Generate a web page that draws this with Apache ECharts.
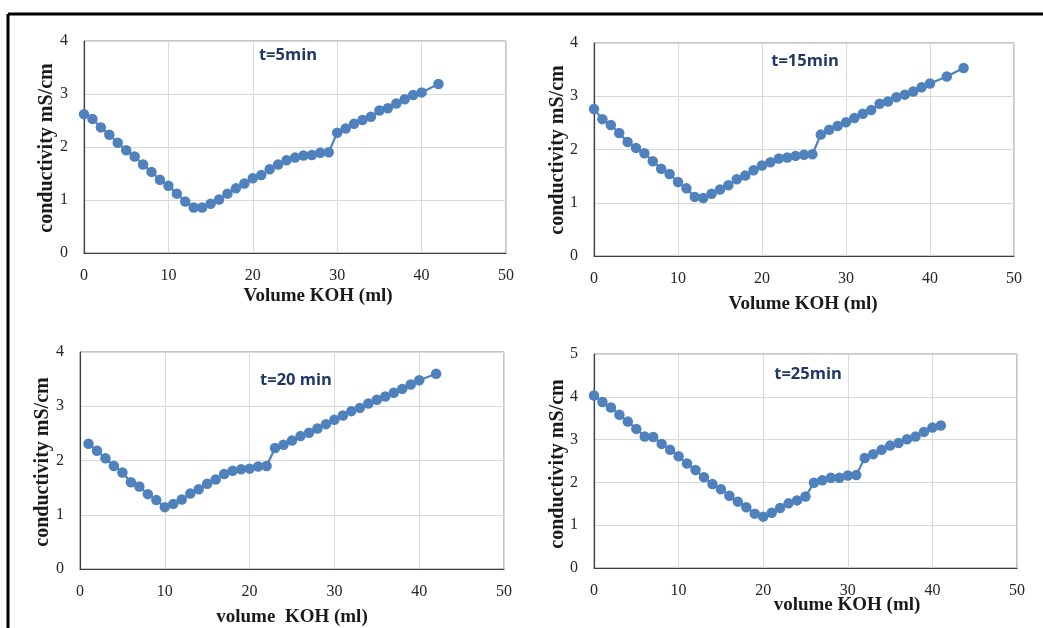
<!DOCTYPE html>
<html>
<head>
<meta charset="utf-8">
<script src="https://cdn.jsdelivr.net/npm/echarts@6/dist/echarts.min.js"></script>
<style>
html,body{margin:0;padding:0;background:#fff;}
#c{width:1043px;height:628px;}
</style>
</head>
<body>
<div id="c"></div>
<script>
// ---- data ----
var x5 = [0,1,2,3,4,5,6,7,8,9,10,11,12,13,14,15,16,17,18,19,20,21,22,23,24,25,26,27,28,29,30,31,32,33,34,35,36,37,38,39,40,42];
var y5 = [2.62,2.53,2.37,2.23,2.08,1.94,1.82,1.67,1.53,1.38,1.27,1.12,0.97,0.86,0.86,0.93,1.01,1.12,1.22,1.31,1.41,1.47,1.58,1.67,1.75,1.80,1.84,1.85,1.89,1.90,2.27,2.35,2.44,2.51,2.57,2.69,2.73,2.82,2.90,2.98,3.03,3.19];

var x15 = [0,1,2,3,4,5,6,7,8,9,10,11,12,13,14,15,16,17,18,19,20,21,22,23,24,25,26,27,28,29,30,31,32,33,34,35,36,37,38,39,40,42,44];
var y15 = [2.76,2.57,2.46,2.31,2.14,2.03,1.93,1.78,1.64,1.54,1.39,1.27,1.11,1.09,1.17,1.25,1.33,1.44,1.51,1.61,1.70,1.76,1.83,1.85,1.88,1.90,1.91,2.28,2.37,2.44,2.51,2.59,2.67,2.74,2.86,2.90,2.98,3.03,3.09,3.17,3.24,3.37,3.53];

var x20 = [1,2,3,4,5,6,7,8,9,10,11,12,13,14,15,16,17,18,19,20,21,22,23,24,25,26,27,28,29,30,31,32,33,34,35,36,37,38,39,40,42];
var y20 = [2.31,2.18,2.04,1.90,1.78,1.60,1.52,1.38,1.27,1.14,1.20,1.28,1.39,1.47,1.57,1.65,1.75,1.81,1.84,1.85,1.89,1.90,2.23,2.29,2.37,2.45,2.51,2.59,2.67,2.75,2.83,2.91,2.97,3.05,3.12,3.18,3.25,3.32,3.40,3.48,3.60];

var x25 = [0,1,2,3,4,5,6,7,8,9,10,11,12,13,14,15,16,17,18,19,20,21,22,23,24,25,26,27,28,29,30,31,32,33,34,35,36,37,38,39,40,41];
var y25 = [4.03,3.88,3.75,3.58,3.42,3.25,3.07,3.06,2.90,2.76,2.61,2.44,2.29,2.12,1.96,1.84,1.69,1.55,1.42,1.27,1.20,1.29,1.40,1.51,1.58,1.67,1.99,2.05,2.11,2.11,2.16,2.17,2.57,2.66,2.76,2.86,2.92,3.01,3.07,3.18,3.28,3.33];

var titles = ['t=5min','t=15min','t=20 min','t=25min'];
var xNames = ['Volume KOH (ml)','Volume KOH (ml)','volume  KOH (ml)','volume KOH (ml)'];
var yName = 'conductivity mS/cm';
var yMax = [4,4,4,5];

// ---- layout ----
var grids = [
  {left:84, top:41, width:422, height:212},
  {left:594, top:43, width:420, height:213},
  {left:80, top:352, width:424, height:217},
  {left:594, top:354, width:423, height:214}
];
var titlePos = [[288,55],[805,61],[296,380],[808,374]];
var xNamePos = [[318,296],[803,304],[292,617],[847,605]];
var yNamePos = [[47,148],[558,150],[43,462],[558,464]];

function pairs(xs, ys){ return xs.map(function(v,i){ return [v, ys[i]]; }); }
var datasets = [pairs(x5,y5), pairs(x15,y15), pairs(x20,y20), pairs(x25,y25)];

var blue = '#4f81bd';
var tickFont = {fontFamily:'"Liberation Serif", "DejaVu Serif", serif', fontSize:16, color:'#262626'};

var option = {
  backgroundColor:'#ffffff',
  animation:false,
  grid: grids.map(function(g){ return Object.assign({show:true, borderColor:'#8c8c8c', borderWidth:1, containLabel:false}, g); }),
  xAxis: grids.map(function(g,i){
    return {
      gridIndex:i, type:'value', min:0, max:50, interval:10,
      axisLine:{show:true, onZero:false, lineStyle:{color:'#404040', width:1.2}},
      axisTick:{show:false},
      axisLabel:Object.assign({margin:15}, tickFont),
      splitLine:{show:true, lineStyle:{color:'#d9d9d9', width:1}}
    };
  }),
  yAxis: grids.map(function(g,i){
    return {
      gridIndex:i, type:'value', min:0, max:yMax[i], interval:1,
      axisLine:{show:true, onZero:false, lineStyle:{color:'#404040', width:1.2}},
      axisTick:{show:false},
      axisLabel:Object.assign({margin:16}, tickFont),
      splitLine:{show:true, lineStyle:{color:'#d9d9d9', width:1}}
    };
  }),
  series: datasets.map(function(d,i){
    return {
      type:'line', xAxisIndex:i, yAxisIndex:i, data:d,
      symbol:'circle', symbolSize:10.5, showSymbol:true,
      lineStyle:{color:blue, width:2.2},
      itemStyle:{color:blue},
      emphasis:{disabled:true}
    };
  }),
  graphic: []
};

// frame lines
option.graphic.push({type:'line', shape:{x1:8, y1:14, x2:1043, y2:14}, style:{stroke:'#000', lineWidth:3}, silent:true});
option.graphic.push({type:'line', shape:{x1:8, y1:14, x2:8, y2:628}, style:{stroke:'#000', lineWidth:3}, silent:true});

for (var i=0;i<4;i++){
  option.graphic.push({type:'text', x:titlePos[i][0], y:titlePos[i][1], silent:true,
    style:{text:titles[i], align:'center', verticalAlign:'middle', fill:'#1f3864', font:'bold 16.5px "Open Sans", "Liberation Sans", sans-serif'}});
  option.graphic.push({type:'text', x:xNamePos[i][0], y:xNamePos[i][1], silent:true,
    style:{text:xNames[i], align:'center', verticalAlign:'middle', fill:'#1a1a1a', font:'bold 19px "Liberation Serif", "DejaVu Serif", serif'}});
  option.graphic.push({type:'text', x:yNamePos[i][0], y:yNamePos[i][1], rotation:Math.PI/2, silent:true,
    style:{text:yName, align:'center', verticalAlign:'middle', fill:'#1a1a1a', font:'bold 20px "Liberation Serif", "DejaVu Serif", serif'}});
}

var chart = echarts.init(document.getElementById('c'), null, {renderer:'canvas'});
chart.setOption(option);
</script>
</body>
</html>
